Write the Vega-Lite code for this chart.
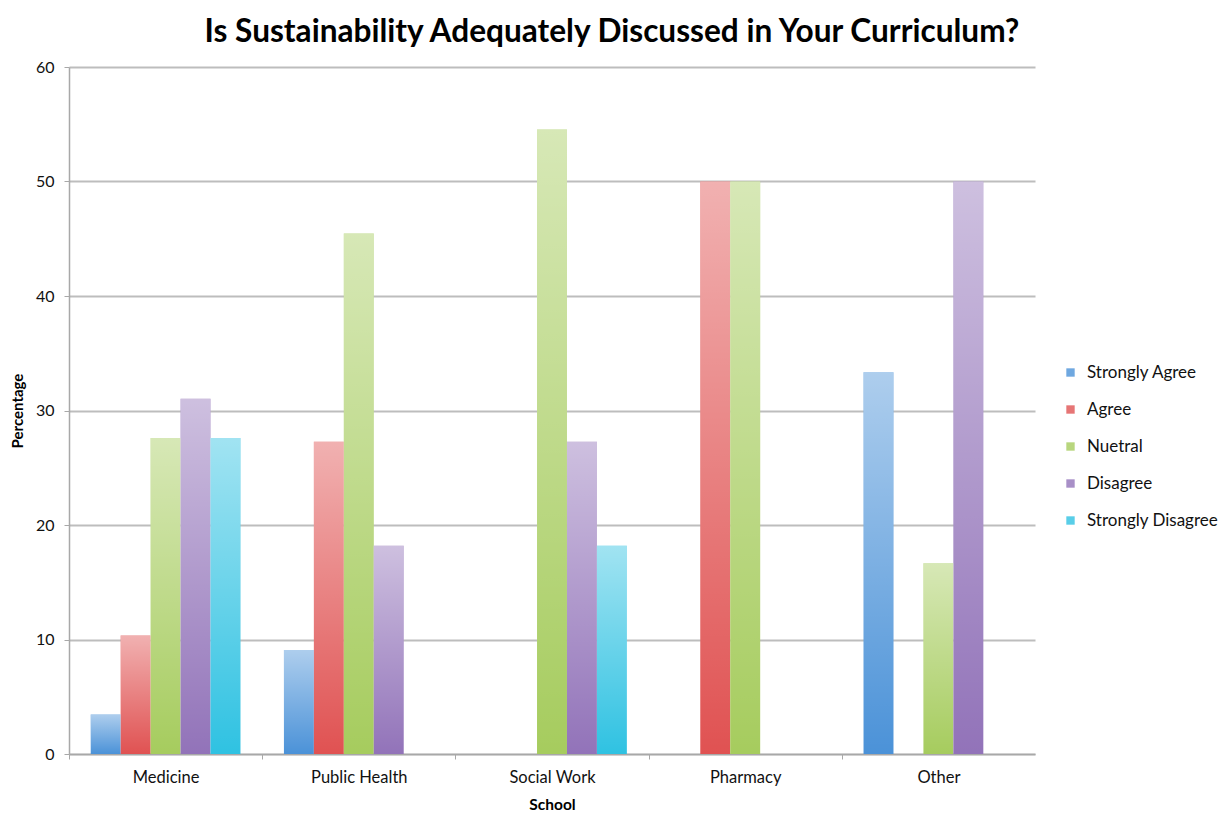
{
  "$schema": "https://vega.github.io/schema/vega-lite/v6.json",
  "width": 966,
  "height": 687,
  "autosize": {"type": "none"},
  "padding": {"left": 69, "top": 67, "right": 196, "bottom": 64},
  "background": "white",
  "title": {
    "text": "Is Sustainability Adequately Discussed in Your Curriculum?",
    "font": "Lato",
    "fontSize": 31.6,
    "fontWeight": "bold",
    "color": "#000000",
    "anchor": "middle",
    "dx": 60,
    "offset": 10
  },
  "data": {
    "values": [
      {"school": "Medicine", "response": "Strongly Agree", "pct": 3.45},
      {"school": "Medicine", "response": "Agree", "pct": 10.34},
      {"school": "Medicine", "response": "Nuetral", "pct": 27.59},
      {"school": "Medicine", "response": "Disagree", "pct": 31.03},
      {"school": "Medicine", "response": "Strongly Disagree", "pct": 27.59},
      {"school": "Public Health", "response": "Strongly Agree", "pct": 9.09},
      {"school": "Public Health", "response": "Agree", "pct": 27.27},
      {"school": "Public Health", "response": "Nuetral", "pct": 45.45},
      {"school": "Public Health", "response": "Disagree", "pct": 18.18},
      {"school": "Social Work", "response": "Nuetral", "pct": 54.55},
      {"school": "Social Work", "response": "Disagree", "pct": 27.27},
      {"school": "Social Work", "response": "Strongly Disagree", "pct": 18.18},
      {"school": "Pharmacy", "response": "Agree", "pct": 50},
      {"school": "Pharmacy", "response": "Nuetral", "pct": 50},
      {"school": "Other", "response": "Strongly Agree", "pct": 33.33},
      {"school": "Other", "response": "Nuetral", "pct": 16.67},
      {"school": "Other", "response": "Disagree", "pct": 50}
    ]
  },
  "encoding": {
    "x": {
      "field": "school",
      "type": "nominal",
      "sort": ["Medicine", "Public Health", "Social Work", "Pharmacy", "Other"],
      "scale": {"paddingInner": 0.225, "paddingOuter": 0.1125},
      "axis": {
        "title": "School",
        "titleFont": "Lato",
        "titleFontSize": 15.5,
        "titleFontWeight": "bold",
        "titleColor": "#000000",
        "titlePadding": 12,
        "labelFont": "Lato",
        "labelFontSize": 16.5,
        "labelColor": "#111111",
        "labelAngle": 0,
        "labelPadding": 10,
        "tickOffset": -96.6,
        "labelOffset": 96.6,
        "tickSize": 5,
        "tickColor": "#a8a8a8",
        "domainColor": "#a8a8a8",
        "domainWidth": 1.5,
        "grid": false
      }
    },
    "xOffset": {
      "field": "response",
      "type": "nominal",
      "sort": ["Strongly Agree", "Agree", "Nuetral", "Disagree", "Strongly Disagree"],
      "scale": {"paddingInner": 0, "paddingOuter": 0}
    },
    "y": {
      "field": "pct",
      "type": "quantitative",
      "scale": {"domain": [0, 60]},
      "axis": {
        "title": "Percentage",
        "titleFont": "Lato",
        "titleFontSize": 15,
        "titleFontWeight": "bold",
        "titleColor": "#000000",
        "titlePadding": 10,
        "labelFont": "Lato",
        "labelFontSize": 16,
        "labelColor": "#111111",
        "labelPadding": 10,
        "values": [0, 10, 20, 30, 40, 50, 60],
        "tickSize": 5,
        "tickColor": "#a8a8a8",
        "domainColor": "#a8a8a8",
        "domainWidth": 1.5,
        "gridColor": "#bdbdbd",
        "gridWidth": 2
      }
    }
  },
  "layer": [
    {
      "mark": {"type": "bar"},
      "encoding": {
        "color": {
          "field": "response",
          "type": "nominal",
          "sort": ["Strongly Agree", "Agree", "Nuetral", "Disagree", "Strongly Disagree"],
          "scale": {
            "domain": ["Strongly Agree", "Agree", "Nuetral", "Disagree", "Strongly Disagree"],
            "range": ["#4b92d8", "#e05252", "#a6cc5e", "#9273b9", "#2fc2e2"]
          },
          "legend": {
            "title": null,
            "orient": "none",
            "legendX": 993,
            "legendY": 297,
            "symbolType": "square",
            "symbolSize": 70,
            "symbolStrokeWidth": 0,
            "symbolOpacity": 0.8,
            "labelFont": "Lato",
            "labelFontSize": 17,
            "labelColor": "#111111",
            "labelOffset": 8,
            "rowPadding": 19
          }
        }
      }
    },
    {
      "mark": {
        "type": "bar",
        "fill": {
          "gradient": "linear",
          "x1": 0, "y1": 0, "x2": 0, "y2": 1,
          "stops": [
            {"offset": 0, "color": "rgba(255,255,255,0.55)"},
            {"offset": 1, "color": "rgba(255,255,255,0)"}
          ]
        }
      }
    }
  ],
  "config": {
    "view": {"stroke": null}
  }
}
